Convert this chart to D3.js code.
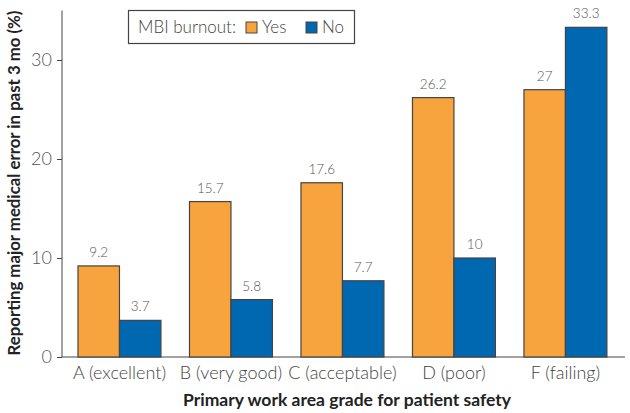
<!DOCTYPE html>
<html>
<head>
<meta charset="utf-8">
<script src="https://cdn.jsdelivr.net/npm/d3@7"></script>
<style>
  body { margin: 0; background: #fff; }
  svg text { font-family: Lato, "Open Sans", sans-serif; }
</style>
</head>
<body>
<script>
const grades = ['A (excellent)', 'B (very good)', 'C (acceptable)', 'D (poor)', 'F (failing)'];
const burnoutYes = [9.2, 15.7, 17.6, 26.2, 27];
const burnoutNo = [3.7, 5.8, 7.7, 10, 33.3];
const yTicks = [0, 10, 20, 30];
const seriesNames = ['Yes', 'No'];
const colors = ['#F7A33E', '#0067B1'];

const width = 630;
const height = 413;

const svg = d3.select('body')
  .append('svg')
  .attr('width', width)
  .attr('height', height);

const y = d3.scaleLinear().domain([0, 35]).range([357, 10.5]);

const x = d3.scaleBand()
  .domain(grades)
  .range([63.5, 621.4])
  .paddingInner(0.256)
  .paddingOuter(0.13);

const xSub = d3.scaleBand()
  .domain(seriesNames)
  .range([0, x.bandwidth()]);

// y axis
const yAxis = svg.append('g')
  .attr('transform', 'translate(62,0)')
  .call(d3.axisLeft(y).tickValues(yTicks).tickSize(5).tickPadding(5));
yAxis.select('.domain').attr('stroke', '#444').attr('d', 'M-0,10.5V357');
yAxis.selectAll('.tick line').attr('stroke', '#444');
yAxis.selectAll('.tick text')
  .attr('fill', '#555')
  .style('font-size', '18px')
  .style('font-weight', 300);

// x axis
const xAxis = svg.append('g')
  .attr('transform', 'translate(0,357)')
  .call(d3.axisBottom(x).tickSize(0).tickPadding(9));
xAxis.select('.domain').attr('stroke', '#444').attr('d', 'M62,0H625');
xAxis.selectAll('.tick text')
  .attr('fill', '#444')
  .style('font-size', '18px')
  .style('font-weight', 300);

const rows = grades.map((g, i) => ({ grade: g, values: [burnoutYes[i], burnoutNo[i]] }));

const groups = svg.append('g')
  .selectAll('g')
  .data(rows)
  .enter()
  .append('g')
  .attr('transform', d => `translate(${ x(d.grade) },0)`);

groups.selectAll('rect')
  .data(d => d.values.map((v, j) => ({ key: seriesNames[j], value: v, color: colors[j] })))
  .enter()
  .append('rect')
  .attr('x', d => xSub(d.key))
  .attr('y', d => y(d.value))
  .attr('width', xSub.bandwidth())
  .attr('height', d => y(0) - y(d.value))
  .attr('fill', d => d.color)
  .attr('stroke', '#444')
  .attr('stroke-width', 1.2);

groups.selectAll('text.val')
  .data(d => d.values.map((v, j) => ({ key: seriesNames[j], value: v })))
  .enter()
  .append('text')
  .attr('class', 'val')
  .attr('x', d => xSub(d.key) + xSub.bandwidth() / 2)
  .attr('y', d => y(d.value) - 9)
  .attr('text-anchor', 'middle')
  .attr('fill', '#555')
  .style('font-size', '13.5px')
  .style('font-weight', 300)
  .text(d => d.value);

// axis titles
svg.append('text')
  .attr('x', 347)
  .attr('y', 406)
  .attr('text-anchor', 'middle')
  .attr('fill', '#222')
  .style('font-size', '17.5px')
  .style('font-weight', 700)
  .text('Primary work area grade for patient safety');

svg.append('text')
  .attr('transform', 'translate(20,183) rotate(-90)')
  .attr('text-anchor', 'middle')
  .attr('fill', '#222')
  .style('font-size', '16.8px')
  .style('font-weight', 700)
  .text('Reporting major medical error in past 3 mo (%)');

// legend
const legend = svg.append('g');
legend.append('rect')
  .attr('x', 128.5)
  .attr('y', 10.5)
  .attr('width', 226)
  .attr('height', 33)
  .attr('fill', '#fff')
  .attr('stroke', '#444')
  .attr('stroke-width', 1.2);
legend.append('text')
  .attr('x', 138)
  .attr('y', 33)
  .attr('fill', '#444')
  .style('font-size', '17px')
  .style('font-weight', 300)
  .text('MBI burnout:');

const legendX = [246, 306];
seriesNames.forEach((name, i) => {
  legend.append('rect')
    .attr('x', legendX[i])
    .attr('y', 22)
    .attr('width', 11)
    .attr('height', 11)
    .attr('fill', colors[i])
    .attr('stroke', '#444');
  legend.append('text')
    .attr('x', legendX[i] + 16)
    .attr('y', 33)
    .attr('fill', '#444')
    .style('font-size', '17px')
    .style('font-weight', 300)
    .text(name);
});
</script>
</body>
</html>
